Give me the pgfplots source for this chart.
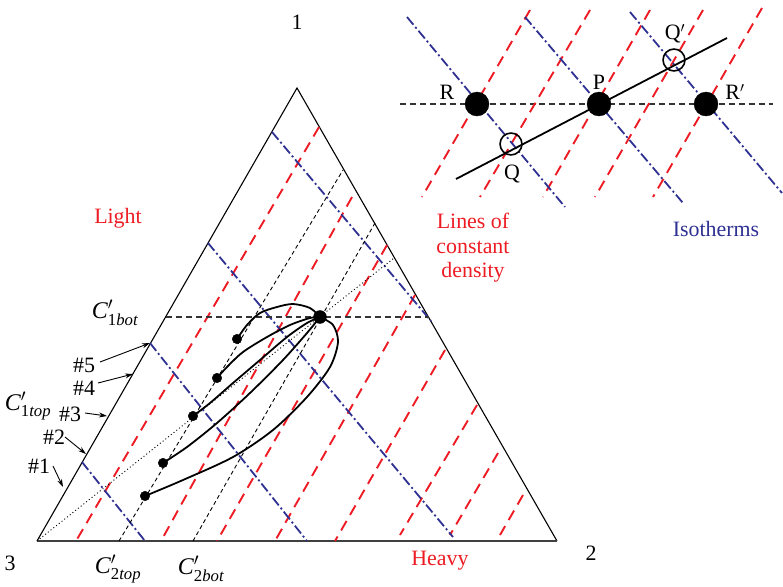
\documentclass[border=0pt]{standalone}
\usepackage{fontspec}
\setmainfont{Liberation Serif}
\usepackage{amsmath}
\usepackage{pgfplots}
\pgfplotsset{compat=1.18}
\usetikzlibrary{arrows.meta}

\definecolor{dred}{RGB}{237,28,36}
\definecolor{dblue}{RGB}{46,49,146}

\tikzset{
  dens/.style={dred, line width=1.9pt, dash pattern=on 11pt off 7pt},
  iso/.style={dblue, line width=1.8pt, dash pattern=on 10pt off 3pt on 2pt off 3pt},
  thindash/.style={black, line width=0.9pt, dash pattern=on 4pt off 3pt},
  path/.style={black, line width=1.8pt, smooth},
  lbl/.style={font=\fontsize{22}{24.5}\selectfont},
  clbl/.style={font=\fontsize{24}{26}\selectfont},
}

\begin{document}
\begin{tikzpicture}
\begin{axis}[
  width=783bp, height=584bp, scale only axis,
  xmin=0, xmax=783, ymin=0, ymax=584, y dir=reverse,
  hide axis, clip=false,
]
% keeps the picture the size of the reference
\addplot[draw=none] coordinates {(0,0) (783,584)};

% ---- triangle ----
\addplot[black, line width=1.1pt] coordinates {(557,541) (297,88) (37,541)};
\addplot[black!75, line width=1.8pt] coordinates {(37,541) (557,541)};

% ---- lines of constant density ----
\addplot[dens] coordinates {(319,127) (76,541)};
\addplot[dens] coordinates {(352,197) (161,541)};
\addplot[dens] coordinates {(387,245) (217,541)};
\addplot[dens] coordinates {(415,295) (275,541)};
\addplot[dens] coordinates {(445,350) (335,541)};
\addplot[dens] coordinates {(477,405) (400,535)};
\addplot[dens] coordinates {(498,453) (450,535)};
\addplot[dens] coordinates {(523,495) (500,535)};

% ---- isotherms ----
\addplot[iso] coordinates {(272,132) (431,321)};
\addplot[iso] coordinates {(208,243) (453,537)};
\addplot[iso] coordinates {(150,343) (307,541)};
\addplot[iso] coordinates {(82,462) (145,541)};

% ---- construction lines ----
\addplot[thindash] coordinates {(119,541) (343,170)};
\addplot[thindash] coordinates {(193,541) (375,223)};
\addplot[black!80, line width=1.1pt, dash pattern=on 6pt off 4pt] coordinates {(166,317) (429,317)};
\addplot[black, line width=0.9pt, dash pattern=on 1pt off 2.5pt] coordinates {(37,541) (394,258)};

% ---- paths #1 .. #5 ----
\addplot[path] coordinates {(145,496) (183,480) (233,457) (273,430) (307,397) (330,367) (338,342) (333,325) (320,317)};
\addplot[path] coordinates {(163,463) (187,447) (217,423) (250,393) (283,360) (307,333) (320,317)};
\addplot[path] coordinates {(193,416) (210,403) (233,383) (260,360) (287,337) (307,323) (320,317)};
\addplot[path] coordinates {(217,378) (227,367) (243,352) (267,337) (290,325) (310,318) (320,317)};
\addplot[path] coordinates {(237,339) (247,325) (260,313) (277,307) (293,304) (310,308) (320,317)};

\addplot[only marks, mark=*, mark size=4.8pt, black] coordinates {(145,496) (163,463) (193,416) (217,378) (237,339)};
\addplot[only marks, mark=*, mark size=6.5pt, black] coordinates {(320,317)};

% ---- arrows on the left edge ----
\addplot[black, line width=0.9pt, -{Stealth[length=8pt,width=5pt]}] coordinates {(100,362) (150,343)};
\addplot[black, line width=0.9pt, -{Stealth[length=8pt,width=5pt]}] coordinates {(98,383) (133,374)};
\addplot[black, line width=0.9pt, -{Stealth[length=8pt,width=5pt]}] coordinates {(85,413) (107,416)};
\addplot[black, line width=0.9pt, -{Stealth[length=8pt,width=5pt]}] coordinates {(65,437) (86,454)};
\addplot[black, line width=0.9pt, -{Stealth[length=8pt,width=5pt]}] coordinates {(53,466) (63,487)};

% ---- inset ----
\addplot[black!80, line width=1.1pt, dash pattern=on 6pt off 4pt] coordinates {(400,104) (773,104)};
\addplot[dens] coordinates {(530,10) (422,197)};
\addplot[dens] coordinates {(590,10) (480,197)};
\addplot[dens] coordinates {(650,10) (543,197)};
\addplot[dens] coordinates {(703,10) (595,197)};
\addplot[dens] coordinates {(762,8) (653,197)};
\addplot[iso] coordinates {(407,17) (565,207)};
\addplot[iso] coordinates {(525,17) (683,203)};
\addplot[iso] coordinates {(630,12) (782,193)};
\addplot[black, line width=1.8pt] coordinates {(456,179) (727,38)};
\addplot[only marks, mark=*, mark size=12pt, black] coordinates {(477,104) (599,104) (706,104)};
\addplot[only marks, mark=o, mark size=11pt, black, line width=1.6pt] coordinates {(511,144) (674,60)};

% ---- labels ----
\node[lbl] at (axis cs:297,22) {1};
\node[lbl] at (axis cs:591,553) {2};
\node[lbl] at (axis cs:10,563) {3};
\node[lbl, dred] at (axis cs:118,218) {Light};
\node[lbl, dred] at (axis cs:440,561) {Heavy};
\node[lbl, dred, align=center] at (axis cs:473,248) {Lines of\\constant\\density};
\node[lbl, dblue] at (axis cs:716,229) {Isotherms};
\node[lbl] at (axis cs:447,92) {R};
\node[lbl] at (axis cs:599,82) {P};
\node[lbl] at (axis cs:735,92) {R$'$};
\node[lbl] at (axis cs:512,174) {Q};
\node[lbl] at (axis cs:675,34) {Q$'$};

\node[clbl] at (axis cs:115,313) {\textit{C}$'_{\text{1}\textit{bot}}$};
\node[clbl] at (axis cs:28,406) {\textit{C}$'_{\text{1}\textit{top}}$};
\node[clbl] at (axis cs:118,569) {\textit{C}$'_{\text{2}\textit{top}}$};
\node[clbl] at (axis cs:201,569) {\textit{C}$'_{\text{2}\textit{bot}}$};
\node[lbl] at (axis cs:84,365) {\#5};
\node[lbl] at (axis cs:84,388) {\#4};
\node[lbl] at (axis cs:70,414) {\#3};
\node[lbl] at (axis cs:54,437) {\#2};
\node[lbl] at (axis cs:39,466) {\#1};
\end{axis}
\end{tikzpicture}
\end{document}
